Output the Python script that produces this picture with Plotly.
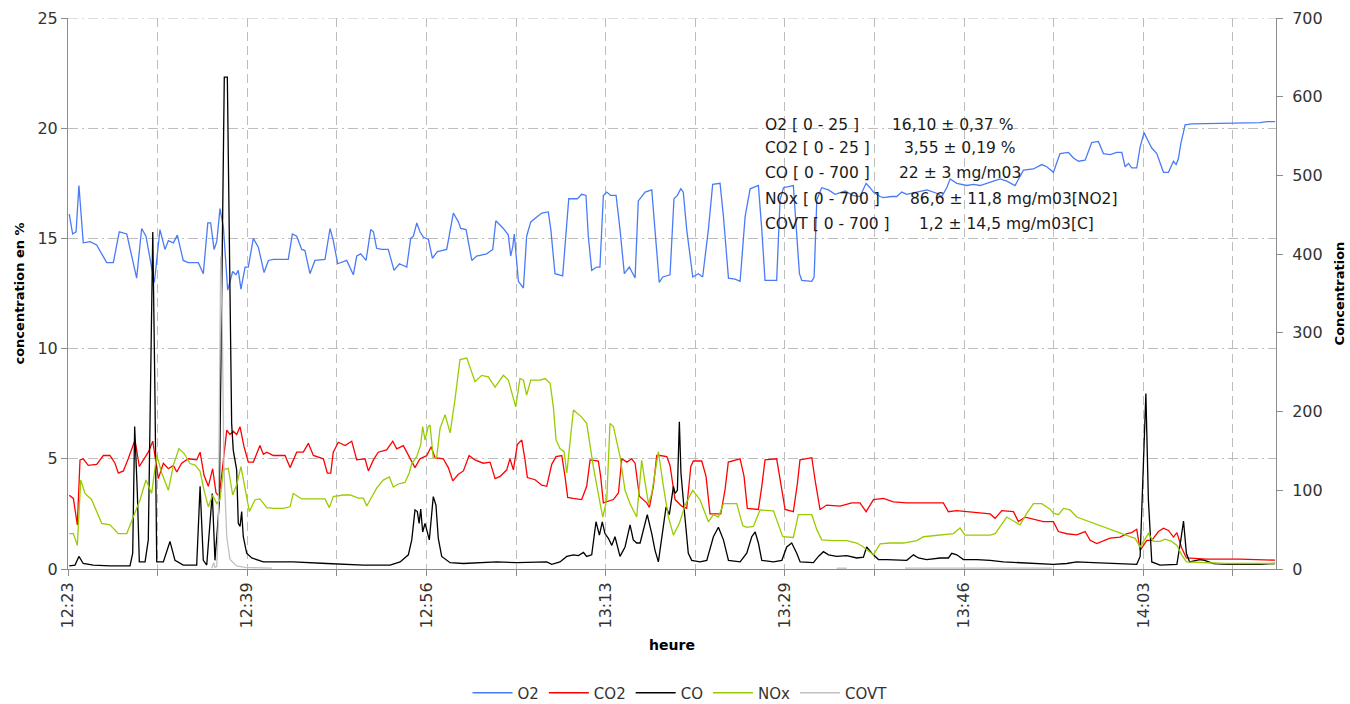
import plotly.graph_objects as go

# ---------------- data (time = seconds after 12:23:00) ----------------
tick_seconds = [0, 1000, 2000, 3000, 4000, 5000, 6000]
tick_labels = ["12:23", "12:39", "12:56", "13:13", "13:29", "13:46", "14:03"]
minor_tick_seconds = [500, 1500, 2500, 3500, 4500, 5500, 6500]

o2_t = [7, 26, 45, 61, 85, 123, 160, 216, 253, 286, 328, 383, 411, 435, 482, 513, 541, 560, 588, 610,
        643, 671, 727, 755, 780, 796, 815, 830, 848, 867, 891, 919, 937, 950, 965, 988, 1006, 1034, 1062, 1094,
        1118, 1146, 1183, 1229, 1252, 1276, 1304, 1322, 1350, 1378, 1434, 1462, 1480, 1505, 1555, 1592, 1611, 1633, 1663, 1689,
        1704, 1722, 1750, 1787, 1819, 1849, 1890, 1912, 1927, 1946, 1964, 1983, 2011, 2033, 2061, 2113, 2150, 2178, 2191, 2221,
        2253, 2280, 2336, 2370, 2387, 2429, 2457, 2470, 2481, 2490, 2513, 2541, 2559, 2582, 2643, 2680, 2694, 2717, 2760, 2782,
        2794, 2842, 2866, 2890, 2903, 2922, 2950, 2968, 2987, 3006, 3028, 3058, 3080, 3104, 3132, 3164, 3182, 3220, 3257, 3275,
        3299, 3318, 3359, 3381, 3400, 3419, 3433, 3452, 3486, 3517, 3541, 3573, 3597, 3638, 3657, 3685, 3722, 3750, 3778, 3806,
        3852, 3871, 3889, 3954, 3973, 3992, 4047, 4081, 4094, 4150, 4163, 4178, 4205, 4243, 4280, 4336, 4378, 4419, 4453, 4475,
        4494, 4531, 4549, 4596, 4624, 4652, 4680, 4736, 4792, 4847, 4875, 4903, 4922, 4959, 5015, 5052, 5089, 5126, 5163, 5201,
        5238, 5284, 5331, 5386, 5433, 5461, 5498, 5535, 5582, 5610, 5638, 5675, 5712, 5749, 5777, 5814, 5852, 5880, 5898, 5917,
        5935, 5963, 5982, 6004, 6028, 6047, 6075, 6093, 6112, 6140, 6168, 6183, 6195, 6209, 6233, 6270, 6651, 6689, 6735]
o2 = [16.1, 15.2, 15.3, 17.4, 14.8, 14.85, 14.7, 13.9, 13.9, 15.3, 15.2, 13.2, 15.45, 15.1, 13.0, 15.4, 14.5, 14.9, 14.8, 15.15,
      14.0, 13.9, 13.9, 13.4, 15.7, 15.7, 14.5, 14.85, 16.35, 15.5, 12.65, 13.5, 13.35, 13.55, 12.7, 13.7, 13.7, 15.0, 14.6, 13.45,
      14.0, 14.05, 14.05, 14.05, 15.2, 15.1, 14.5, 14.45, 13.4, 14.0, 14.05, 15.45, 14.9, 13.85, 14.0, 13.35, 14.2, 14.3, 14.0, 15.4,
      15.3, 14.55, 14.5, 14.5, 13.55, 13.85, 13.7, 15.0, 15.1, 15.7, 15.3, 15.05, 14.95, 14.1, 14.4, 14.5, 16.15, 15.75, 15.45, 15.4,
      14.0, 14.2, 14.3, 14.5, 15.8, 15.45, 15.15, 14.2, 14.6, 15.2, 13.05, 12.75, 15.1, 15.75, 16.15, 16.2, 15.4, 13.4, 13.3, 15.4,
      16.8, 16.8, 17.0, 16.95, 15.1, 13.55, 13.7, 13.7, 16.95, 17.1, 16.95, 16.95, 15.4, 13.4, 13.7, 13.2, 16.7, 17.1, 17.2, 15.4,
      13.0, 13.25, 13.35, 16.8, 16.95, 17.25, 17.1, 15.4, 13.25, 13.4, 13.25, 15.4, 17.45, 17.5, 16.0, 13.2, 13.15, 13.05, 16.0, 17.25,
      17.4, 15.4, 13.1, 13.1, 16.75, 17.3, 17.4, 13.4, 13.1, 13.05, 13.25, 16.75, 17.3, 17.2, 17.0, 17.15, 16.95, 16.9, 17.5, 17.3,
      17.1, 16.9, 16.85, 16.9, 16.9, 17.1, 17.0, 17.1, 17.2, 17.05, 16.9, 17.3, 17.7, 17.5, 17.4, 17.45, 17.4, 17.5, 17.6, 17.7,
      17.6, 17.4, 18.1, 18.15, 18.35, 18.25, 18.0, 18.85, 18.9, 18.65, 18.5, 18.55, 19.35, 19.4, 18.85, 18.8, 18.9, 18.9, 18.25, 18.4,
      18.2, 18.2, 19.15, 19.8, 19.4, 19.1, 18.85, 18.4, 18.0, 18.0, 18.5, 18.35, 18.6, 19.3, 20.15, 20.2, 20.25, 20.3, 20.3]

co2_t = [7, 30, 52, 67, 85, 113, 160, 197, 234, 262, 281, 309, 336, 374, 398, 420, 448, 473, 504, 532,
         560, 588, 607, 634, 671, 718, 737, 759, 783, 807, 826, 844, 863, 886, 904, 922, 941, 960, 982, 1006,
         1034, 1071, 1090, 1109, 1146, 1211, 1239, 1276, 1313, 1341, 1369, 1425, 1447, 1466, 1480, 1508, 1546, 1583, 1611, 1639,
         1657, 1676, 1704, 1731, 1778, 1812, 1834, 1871, 1899, 1914, 1936, 1964, 2002, 2026, 2048, 2094, 2122, 2147, 2178, 2206,
         2238, 2271, 2317, 2355, 2383, 2411, 2448, 2466, 2485, 2507, 2532, 2550, 2563, 2606, 2643, 2671, 2699, 2723, 2755, 2773,
         2788, 2819, 2866, 2894, 2913, 2959, 2972, 2987, 3043, 3071, 3090, 3118, 3145, 3164, 3188, 3229, 3244, 3266, 3285, 3303,
         3341, 3359, 3387, 3424, 3452, 3475, 3489, 3536, 3560, 3582, 3642, 3666, 3684, 3750, 3772, 3790, 3852, 3871, 3889, 3954,
         3976, 4001, 4047, 4070, 4084, 4150, 4168, 4196, 4233, 4308, 4373, 4419, 4453, 4494, 4549, 4605, 4680, 4754, 4828, 4884,
         4912, 4959, 5015, 5071, 5145, 5173, 5210, 5275, 5303, 5340, 5405, 5442, 5498, 5526, 5573, 5628, 5675, 5703, 5740, 5814,
         5870, 5908, 5935, 5963, 5982, 6019, 6047, 6084, 6112, 6140, 6168, 6187, 6214, 6240, 6352, 6540, 6735]
co2 = [3.35, 3.2, 2.0, 4.95, 5.0, 4.7, 4.75, 5.15, 5.15, 4.8, 4.35, 4.45, 5.0, 5.85, 4.65, 4.95, 5.3, 5.8, 4.1, 4.8,
       4.55, 4.7, 4.4, 4.8, 5.0, 4.95, 5.3, 4.25, 3.75, 4.55, 3.45, 3.3, 4.65, 6.3, 6.1, 6.25, 6.1, 6.45, 5.55, 4.85,
       4.85, 5.6, 5.2, 5.3, 5.15, 5.15, 4.6, 5.3, 5.3, 5.7, 5.15, 5.0, 4.35, 4.35, 5.3, 5.75, 5.6, 5.8, 4.95, 5.0,
       5.0, 4.45, 4.95, 5.3, 5.4, 5.8, 5.45, 5.6, 5.15, 4.9, 4.6, 5.0, 5.15, 5.55, 5.05, 5.0, 4.6, 4.0, 4.3, 4.45,
       5.15, 4.95, 4.8, 4.85, 4.1, 4.2, 4.5, 5.0, 4.5, 5.65, 5.85, 4.95, 4.15, 4.05, 3.8, 3.75, 4.75, 5.1, 5.15, 4.2,
       3.25, 3.2, 3.15, 3.75, 4.95, 4.9, 4.2, 3.0, 3.15, 3.45, 5.0, 4.85, 5.0, 4.8, 3.3, 3.0, 2.8, 3.75, 5.15, 5.15,
       5.1, 4.7, 3.15, 2.85, 2.75, 4.65, 4.9, 4.9, 4.2, 2.5, 2.5, 3.6, 4.85, 5.0, 4.2, 2.75, 2.7, 3.75, 4.95, 5.0,
       3.9, 2.7, 2.6, 3.9, 4.95, 5.05, 4.05, 2.7, 2.9, 2.85, 3.0, 3.0, 2.6, 3.15, 3.2, 3.05, 3.0, 3.0, 3.0, 3.0,
       2.6, 2.65, 2.6, 2.55, 2.5, 2.3, 2.65, 2.6, 2.15, 2.35, 2.2, 2.15, 2.15, 1.7, 1.6, 1.55, 1.7, 1.3, 1.15, 1.4,
       1.45, 1.6, 1.65, 1.8, 0.85, 1.3, 1.3, 1.7, 1.85, 1.75, 1.45, 1.65, 0.95, 0.5, 0.45, 0.45, 0.4]

co_t = [7, 39, 61, 85, 141, 234, 346, 361, 372, 387, 398, 430, 448, 473, 485, 495, 532, 569, 597, 643,
        718, 737, 755, 774, 805, 820, 844, 872, 889, 913, 922, 941, 950, 960, 969, 978, 997, 1025, 1090, 1257,
        1444, 1648, 1797, 1853, 1899, 1918, 1936, 1949, 1959, 1968, 1979, 1992, 2016, 2038, 2053, 2066, 2085, 2132, 2206, 2392,
        2504, 2671, 2699, 2745, 2783, 2820, 2848, 2876, 2894, 2922, 2946, 2965, 2981, 2996, 3015, 3034, 3052, 3080, 3108, 3136,
        3154, 3173, 3192, 3210, 3232, 3257, 3275, 3294, 3313, 3337, 3355, 3378, 3387, 3400, 3411, 3420, 3433, 3448, 3461, 3480,
        3526, 3564, 3601, 3629, 3657, 3685, 3750, 3787, 3815, 3834, 3852, 3871, 3936, 3983, 4010, 4038, 4066, 4085, 4159, 4187,
        4215, 4243, 4289, 4345, 4401, 4438, 4456, 4485, 4522, 4568, 4643, 4680, 4717, 4745, 4791, 4866, 4912, 4931, 4959, 4996,
        5071, 5145, 5219, 5312, 5442, 5498, 5573, 5628, 5721, 5814, 5908, 5963, 5982, 6000, 6014, 6028, 6047, 6093, 6187, 6209,
        6224, 6240, 6258, 6314, 6342, 6391, 6465, 6651, 6735]
co = [4, 5, 16, 7, 5, 4, 4, 20, 181, 96, 9, 9, 37, 428, 223, 9, 9, 35, 11, 5,
      5, 105, 11, 5, 96, 11, 83, 625, 625, 185, 151, 126, 58, 54, 73, 41, 20, 14, 9, 9,
      7, 5, 5, 9, 18, 37, 75, 73, 58, 76, 47, 58, 37, 92, 81, 39, 16, 8, 7, 9,
      8, 9, 6, 9, 16, 18, 17, 21, 16, 18, 60, 43, 60, 45, 39, 30, 41, 16, 28, 56,
      37, 33, 33, 50, 69, 45, 24, 9, 41, 79, 69, 105, 96, 100, 187, 122, 88, 54, 20, 11,
      9, 11, 41, 53, 37, 11, 9, 20, 41, 47, 33, 11, 9, 11, 28, 33, 20, 9, 8, 16,
      22, 18, 16, 17, 14, 15, 28, 20, 12, 12, 11, 11, 18, 14, 12, 14, 14, 20, 18, 12,
      12, 11, 9, 8, 7, 6, 7, 9, 8, 7, 6, 6, 16, 130, 223, 88, 9, 5, 6, 37,
      61, 20, 9, 12, 11, 7, 6, 6, 7]

nox_t = [7, 30, 52, 71, 95, 132, 160, 188, 234, 281, 328, 364, 402, 435, 467, 495, 523, 560, 588, 619,
         647, 681, 709, 737, 759, 783, 807, 830, 848, 867, 894, 919, 941, 965, 988, 1012, 1043, 1071, 1109, 1146,
         1201, 1239, 1257, 1304, 1369, 1434, 1458, 1480, 1536, 1574, 1620, 1648, 1667, 1695, 1723, 1759, 1793, 1815, 1843, 1880,
         1904, 1918, 1946, 1968, 1979, 1992, 2010, 2020, 2038, 2057, 2076, 2104, 2132, 2159, 2187, 2225, 2243, 2271, 2308, 2345,
         2383, 2429, 2457, 2476, 2498, 2522, 2541, 2559, 2582, 2634, 2662, 2690, 2708, 2723, 2745, 2768, 2783, 2820, 2866, 2894,
         2931, 2969, 2984, 3006, 3024, 3043, 3080, 3108, 3136, 3173, 3201, 3220, 3239, 3257, 3294, 3322, 3350, 3378, 3411, 3443,
         3486, 3526, 3573, 3601, 3629, 3657, 3731, 3765, 3787, 3824, 3861, 3936, 3963, 3988, 4047, 4075, 4150, 4178, 4205, 4270,
         4345, 4401, 4438, 4494, 4531, 4587, 4661, 4736, 4773, 4810, 4884, 4940, 4977, 5005, 5089, 5145, 5173, 5201, 5238, 5275,
         5312, 5350, 5387, 5433, 5480, 5498, 5526, 5554, 5591, 5628, 5703, 5777, 5833, 5880, 5926, 5954, 5982, 6028, 6056, 6093,
         6121, 6158, 6187, 6214, 6240, 6372, 6456, 6735]
nox = [45, 45, 30, 113, 96, 88, 73, 58, 56, 45, 45, 66, 88, 113, 96, 145, 122, 100, 132, 153,
       147, 134, 132, 124, 100, 79, 94, 83, 88, 126, 128, 94, 107, 130, 100, 73, 88, 89, 78, 77,
       77, 79, 96, 89, 89, 89, 78, 92, 94, 94, 90, 90, 80, 92, 103, 113, 117, 104, 108, 110,
       122, 134, 143, 158, 181, 164, 181, 183, 141, 142, 179, 196, 173, 215, 266, 268, 257, 238, 246, 244,
       231, 246, 240, 225, 206, 242, 240, 221, 240, 240, 242, 236, 206, 164, 153, 149, 122, 202, 193, 185,
       130, 83, 66, 88, 185, 181, 143, 100, 83, 66, 138, 109, 83, 96, 149, 105, 66, 43, 58, 81,
       100, 88, 60, 69, 66, 83, 83, 55, 53, 54, 75, 74, 58, 41, 40, 69, 69, 50, 37, 36,
       36, 33, 28, 18, 32, 33, 33, 36, 41, 42, 44, 45, 52, 43, 43, 43, 45, 54, 66, 61,
       56, 71, 83, 83, 76, 71, 69, 77, 75, 66, 60, 54, 49, 45, 41, 39, 28, 45, 35, 35,
       38, 35, 30, 18, 9, 8, 7, 7]

covt_t = [802, 813, 820, 830, 839, 852, 861, 870, 886, 904, 941, 988, 1137, None,
          4289, 4345, None, 4670, 5491]
covt = [1, 8, 2, 3, 60, 397, 300, 130, 40, 12, 4, 2, 1, None,
        1, 1, None, 1, 1]

# ---------------- figure ----------------
grid_h = "10px,4px,2px,4px"
grid_v = "9px,5px"
axis_col = "#8C8C8C"
grid_col = "#BDBDBD"
tick_font = dict(family="DejaVu Sans", size=16, color="#333333")
title_font = dict(family="DejaVu Sans", size=13, color="#000000", weight="bold")

fig = go.Figure()
fig.add_trace(go.Scatter(x=o2_t, y=o2, name="O2", mode="lines",
                         line=dict(color="#4A7BF7", width=1.3)))
fig.add_trace(go.Scatter(x=co2_t, y=co2, name="CO2", mode="lines",
                         line=dict(color="#FF0000", width=1.3)))
fig.add_trace(go.Scatter(x=co_t, y=co, name="CO", mode="lines", yaxis="y2",
                         line=dict(color="#000000", width=1.3)))
fig.add_trace(go.Scatter(x=nox_t, y=nox, name="NOx", mode="lines", yaxis="y2",
                         line=dict(color="#99CC00", width=1.3)))
fig.add_trace(go.Scatter(x=covt_t, y=covt, name="COVT", mode="lines", yaxis="y2",
                         connectgaps=False, line=dict(color="#C0C0C0", width=1.3)))

L, R, T, B = 68, 74, 18, 135
W, H = 1350, 704
pw, ph = W - L - R, H - T - B


def px(xp):
    return (xp - L) / pw


def py(yp):
    return (H - B - yp) / ph


fig.update_layout(
    width=W, height=H,
    margin=dict(l=L, r=R, t=T, b=B, autoexpand=False),
    paper_bgcolor="white", plot_bgcolor="white",
    font=dict(family="DejaVu Sans", size=14, color="#333333"),
    showlegend=True,
    legend=dict(orientation="h", x=px(680), xanchor="center", y=py(693), yanchor="middle",
                font=dict(family="DejaVu Sans", size=15, color="#333333"),
                bgcolor="rgba(0,0,0,0)", itemwidth=40),
    xaxis=dict(range=[0, 6740], tickmode="array", tickvals=tick_seconds, ticktext=tick_labels,
               tickangle=-90, ticks="outside", ticklen=6, tickcolor=axis_col, tickfont=tick_font,
               showline=True, linecolor=axis_col, linewidth=1, automargin=False,
               showgrid=True, gridcolor=grid_col, griddash=grid_v, gridwidth=1, zeroline=False,
               minor=dict(tickmode="array", tickvals=minor_tick_seconds, ticks="outside", ticklen=6,
                          tickcolor=axis_col, showgrid=True, gridcolor=grid_col, griddash=grid_v),
               title=dict(text="heure", font=dict(family="DejaVu Sans", size=14, color="#000000",
                                                  weight="bold"), standoff=12)),
    yaxis=dict(range=[0, 25], tick0=0, dtick=5, ticks="outside", ticklen=6, tickcolor=axis_col,
               tickfont=tick_font, showline=True, linecolor=axis_col, linewidth=1, automargin=False,
               showgrid=True, gridcolor=grid_col, griddash=grid_h, zeroline=False,
               title=dict(text="concentration en %", font=title_font, standoff=9)),
    yaxis2=dict(range=[0, 700], tick0=0, dtick=100, overlaying="y", side="right",
                ticks="outside", ticklen=6, tickcolor=axis_col, tickfont=tick_font, automargin=False,
                ticklabelstandoff=6,
                showline=True, linecolor=axis_col, linewidth=1, showgrid=False, zeroline=False,
                title=dict(text="Concentration", font=title_font, standoff=13)),
)

# top gridline at 25 (plot border, same dash style as the grid)
fig.add_shape(type="line", xref="paper", yref="y", x0=0, x1=1, y0=25, y1=25,
              line=dict(color=grid_col, width=1, dash=grid_h), layer="below")

# statistics box
stat_labels = ["O2 [ 0 - 25 ]", "CO2 [ 0 - 25 ]", "CO [ 0 - 700 ]", "NOx [ 0 - 700 ]", "COVT [ 0 - 700 ]"]
stat_values = ["16,10 ± 0,37 %", "3,55 ± 0,19 %", "22 ± 3 mg/m03", "86,6 ± 11,8 mg/m03[NO2]", "1,2 ± 14,5 mg/m03[C]"]
label_y = [125, 148.5, 173.5, 199, 224]
value_x = [890, 902, 897, 908, 917]
ann_font = dict(family="DejaVu Sans", size=15.5, color="#1A1A1A")
for lab, val, yy, vx in zip(stat_labels, stat_values, label_y, value_x):
    fig.add_annotation(text=lab, xref="paper", yref="paper", x=px(763), y=py(yy),
                       xanchor="left", yanchor="middle", showarrow=False, font=ann_font)
    fig.add_annotation(text=val, xref="paper", yref="paper", x=px(vx), y=py(yy),
                       xanchor="left", yanchor="middle", showarrow=False, font=ann_font)

fig.write_html("out.html", config={"displayModeBar": False},
               post_script="document.body.style.margin='0';")
